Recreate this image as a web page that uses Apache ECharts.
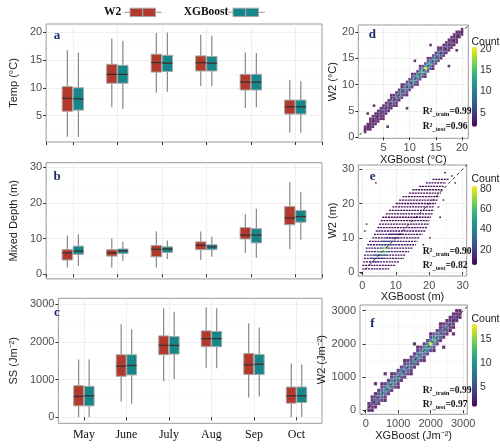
<!DOCTYPE html>
<html>
<head>
<meta charset="utf-8">
<script src="https://cdn.jsdelivr.net/npm/echarts@6/dist/echarts.min.js"></script>
<style>html,body{margin:0;padding:0;background:#fff}#main{width:500px;height:448px}</style>
</head>
<body>
<div id="main"></div>
<script>
var SANS = 'Liberation Sans, Arial, sans-serif';
var SERIF = 'Liberation Serif, Times New Roman, serif';
var RED = '#B23A2C', TEAL = '#16868A';
var VIRIDIS = ['#440154','#482878','#3e4989','#31688e','#26828e','#1f9e89','#35b779','#6ece58','#b5de2b','#fde725'];

var months = ['May', 'June', 'July', 'Aug', 'Sep', 'Oct'];
// boxplot stats: [min, Q1, median, Q3, max]
var tempW2 = [[1.25,5.8,8.1,10.2,16.7],[6.5,10.8,12.4,14.2,18.8],[9.1,12.8,14.5,16.0,19.8],[10.3,13.0,14.5,15.7,19.5],[6.4,9.6,11.0,12.4,16.3],[1.95,5.3,6.6,7.8,11.4]];
var tempXG = [[1.2,6.0,8.0,10.0,16.25],[6.2,10.8,12.4,14.0,18.4],[9.3,12.9,14.4,15.8,19.9],[10.3,13.0,14.4,15.6,19.3],[6.5,9.6,11.0,12.4,16.2],[1.95,5.3,6.6,7.8,11.2]];
var depthW2 = [[1.9,4.0,6.0,6.9,10.9],[1.9,5.1,6.0,6.9,10.0],[1.9,4.9,7.0,8.1,12.1],[4.0,6.9,8.1,9.1,12.0],[6.0,9.9,11.0,13.1,16.9],[7.1,13.9,15.8,19.0,25.9]];
var depthXG = [[2.3,5.6,6.5,7.9,11.2],[3.8,5.8,6.6,7.1,9.1],[4.3,6.1,7.1,7.7,9.5],[4.9,6.9,7.7,8.3,10.5],[4.6,8.8,11.0,12.8,18.4],[9.7,14.6,16.2,17.9,23.0]];
var ssW2 = [[0,304,554,839,1536],[420,1089,1357,1661,2473],[955,1661,1911,2161,2893],[1304,1875,2089,2295,2920],[527,1134,1393,1696,2500],[0,375,571,804,1429]];
var ssXG = [[0,304,571,821,1536],[357,1125,1375,1661,2339],[1018,1679,1911,2143,2804],[1304,1875,2089,2277,2893],[554,1134,1411,1670,2384],[18,393,571,804,1402]];

// panel d: binned counts along the 1:1 band (columns of XGBoost value, offsets of W2 from it)
var dCols = [1.5,2,2.5,3,3.5,4,4.5,5,5.5,6,6.5,7,7.5,8,8.5,9,9.5,10,10.5,11,11.5,12,12.5,13,13.5,14,14.5,15,15.5,16,16.5,17,17.5,18,18.5,19,19.5,20];
var dOffsets = [-1.5,-1,-0.5,0,0.5,1,1.5];
var dCounts = [
  [0,0,1,1,1,0,0],[0,0,1,2,1,0,0],[0,1,1,2,1,1,0],[0,1,2,2,2,1,0],[0,1,2,3,2,1,0],[0,1,2,3,2,1,0],
  [0,1,2,4,3,1,0],[1,1,3,4,3,1,0],[0,1,3,5,3,2,0],[0,2,3,5,4,2,0],[0,2,3,6,4,2,1],[0,2,4,6,4,2,0],
  [1,2,4,7,5,2,0],[0,2,5,8,5,3,0],[0,2,5,7,5,2,1],[0,3,5,8,6,3,0],[1,3,6,9,6,3,0],[0,3,6,9,6,3,0],
  [0,3,6,10,7,3,1],[0,3,7,10,7,3,0],[1,3,7,11,8,3,0],[0,4,7,12,8,4,1],[0,4,8,14,9,4,0],[1,4,8,20,9,4,0],
  [0,4,8,13,8,4,1],[0,3,7,11,7,3,0],[1,3,6,10,6,3,0],[0,3,6,9,6,3,0],[0,3,5,8,5,2,1],[0,2,4,7,5,2,0],
  [0,2,4,6,4,2,0],[0,2,3,5,3,2,0],[0,1,3,4,3,1,0],[0,1,2,4,2,1,0],[0,1,2,3,2,1,0],[0,1,1,2,2,1,0],
  [0,0,1,2,1,0,0],[0,0,1,1,1,0,0]
];
var dOutliers = [[5.8,2.0],[3.2,6.0],[9.5,5.5],[14,17.5],[17.5,13.5],[11,14.5],[2,4.5],[19,16.5]];

// panel e: W2 depth is discrete, so bins form horizontal runs [xStart, xEnd, W2, count]
var eRuns = [
  [0,8,1,6],[0,10,2,7],[0.3,11,3,8],[0.5,12.5,4,9],[0.5,13,5,10],[1,14,6,10],[1,15,7,10],[1.5,16,8,9],
  [2,16.5,9,8],[3,17,10,8],[3.5,18,11,7],[4,19,12,7],[4.5,19.5,13,6],[5,20,14,6],[5.5,20,15,6],[6,20.5,16,5],
  [7,21,17,5],[8,21.5,18,5],[9,21.5,19,5],[10,22,20,5],[11,22.5,21,5],[12,23,22,5],[14,23.5,23,5],[15,24,24,5],
  [17,24.5,25,5],[19,25,26,5],[21,26,27,5],
  [2,5,3,16],[2.5,6.5,4,22],[3.5,7.5,5,32],[4.5,8,6,44],[5.5,8,7,56],[5.5,9,8,32],[6,10,9,22],[7,11,10,15],[8,12,11,11],
  [6,7,6,70],[6.3,7.3,7,84],
  [3.8,4.3,26,5],[24.5,25,29,5],[26.5,27,28,5],[27.5,28,26,5],[22.5,23,19,5],[24,24.5,21,5],[0.5,1,12,5],[1,1.5,14,5],
  [18,18.5,8,5],[20,20.5,10,5],[23,23.5,16,5]
];

// panel f: binned counts along the 1:1 band
var fCols = [100,200,300,400,500,600,700,800,900,1000,1100,1200,1300,1400,1500,1600,1700,1800,1900,2000,2100,2200,2300,2400,2500,2600,2700,2800,2900];
var fOffsets = [-300,-200,-100,0,100,200,300];
var fCounts = [
  [0,0,1,2,1,0,0],[0,1,2,3,2,1,0],[0,1,3,5,3,1,0],[0,2,4,6,4,2,0],[0,2,4,8,5,2,1],[1,2,5,9,5,2,0],
  [0,2,5,10,6,2,0],[0,2,5,9,6,2,1],[0,2,5,9,5,2,0],[1,2,4,8,5,2,0],[0,2,4,8,5,2,0],[0,2,4,7,5,2,1],
  [0,2,4,7,4,2,0],[1,2,4,7,4,2,0],[0,2,4,8,5,2,0],[0,2,5,8,5,2,1],[0,2,5,9,5,2,0],[1,2,5,10,6,2,0],
  [0,3,6,11,7,3,0],[0,3,6,17,7,3,1],[1,3,6,12,6,3,0],[0,2,5,10,5,2,0],[0,2,4,7,4,2,1],[0,2,3,6,4,2,0],
  [0,1,3,5,3,1,0],[0,1,2,4,2,1,0],[0,1,2,3,2,1,0],[0,0,1,2,1,1,0],[0,0,1,1,1,0,0]
];
var fOutliers = [[600,1100],[1500,2000],[2400,1900],[300,800],[2700,2300]];

var r2Labels = [['0.99','0.96'],['0.90','0.82'],['0.99','0.97']];

function bandCells(cols, offsets, counts, outliers) {
  var out = [];
  cols.forEach(function (x, i) {
    offsets.forEach(function (o, j) {
      if (counts[i][j] > 0) out.push([x, x + o, counts[i][j]]);
    });
  });
  outliers.forEach(function (p) { out.push([p[0], p[1], 1]); });
  out.sort(function (a, b) { return a[2] - b[2]; });
  return out;
}
function boxData(stats) {
  return stats.map(function (s, i) { return [i + 1].concat(s); });
}

var myChart = echarts.init(document.getElementById('main'));

function boxRenderer(shift, fill) {
  return function (params, api) {
    var x = api.value(0);
    var band = api.size([1, 0])[0];
    var cx = api.coord([x, 0])[0] + shift * band;
    var hw = band * 0.116;
    var yv = [1, 2, 3, 4, 5].map(function (d) { return api.coord([x, api.value(d)])[1]; });
    return {
      type: 'group',
      children: [
        {type: 'line', shape: {x1: cx, y1: yv[4], x2: cx, y2: yv[3]}, style: {stroke: '#7d7d7d', lineWidth: 1.1}},
        {type: 'line', shape: {x1: cx, y1: yv[1], x2: cx, y2: yv[0]}, style: {stroke: '#7d7d7d', lineWidth: 1.1}},
        {type: 'rect', shape: {x: cx - hw, y: yv[3], width: hw * 2, height: yv[1] - yv[3]}, style: {fill: fill, stroke: '#a8a8a8', lineWidth: 1}},
        {type: 'line', shape: {x1: cx - hw, y1: yv[2], x2: cx + hw, y2: yv[2]}, style: {stroke: '#3d3030', lineWidth: 1.3}}
      ]
    };
  };
}

function runRenderer(params, api) {
  var p0 = api.coord([api.value(0), api.value(2)]);
  var p1 = api.coord([api.value(1), api.value(2)]);
  return {type: 'line', shape: {x1: p0[0], y1: p0[1], x2: Math.max(p1[0], p0[0] + 1.5), y2: p1[1]},
    style: {stroke: api.visual('color'), lineWidth: 1.3, lineDash: [2, 0.8]}};
}

function plainNum(v) { return String(v); }

function valAxis(gi, min, max, split, name, gap) {
  return {
    type: 'value', gridIndex: gi, min: min, max: max, splitNumber: split,
    name: name, nameLocation: 'middle', nameGap: gap,
    nameTextStyle: {fontFamily: SANS, fontSize: 11, color: '#1a1a1a'},
    axisLine: {show: false},
    axisTick: {show: true, length: 3, lineStyle: {color: '#333'}},
    axisLabel: {fontFamily: SANS, fontSize: 11, color: '#4d4d4d', margin: 4, showMinLabel: false, showMaxLabel: false, formatter: plainNum},
    splitLine: {show: true, showMinLine: false, showMaxLine: false, lineStyle: {color: '#ebebeb', width: 0.8}},
    minorTick: {show: false, splitNumber: 2},
    minorSplitLine: {show: true, lineStyle: {color: '#f5f5f5', width: 0.6}}
  };
}
function catAxis(gi, showLabels) {
  return {
    type: 'value', gridIndex: gi, min: 0.4, max: 6.6, splitNumber: 6,
    axisLine: {show: false},
    axisTick: {show: true, length: 3, lineStyle: {color: '#333'}},
    axisLabel: {show: showLabels, fontFamily: SERIF, fontSize: 12, color: '#111', margin: 6,
      showMinLabel: false, showMaxLabel: false,
      formatter: function (v) { return Math.abs(v - Math.round(v)) < 1e-6 ? months[Math.round(v) - 1] : ''; }},
    splitLine: {show: true, showMinLine: false, showMaxLine: false, lineStyle: {color: '#ebebeb', width: 0.8}}
  };
}
function barAxis(gi, min, max, split) {
  return {
    type: 'value', gridIndex: gi, min: min, max: max, splitNumber: split, position: 'right',
    axisLine: {show: false}, axisTick: {show: false}, splitLine: {show: false},
    axisLabel: {fontFamily: SANS, fontSize: 10.5, color: '#333', margin: 3, showMinLabel: false, showMaxLabel: false, formatter: plainNum}
  };
}

var gridStyle = {show: true, borderColor: '#999', borderWidth: 1, backgroundColor: '#fff'};
function g(l, t, w, h, plain) {
  var o = {left: l, top: t, width: w, height: h};
  if (!plain) Object.keys(gridStyle).forEach(function (k) { o[k] = gridStyle[k]; });
  return o;
}

var dashLine = {color: '#111', width: 0.9, type: [3, 3]};

var option = {
  animation: false,
  backgroundColor: '#fff',
  grid: [
    g(46, 24, 276, 118), g(46, 162.7, 276, 116.2), g(46, 298.3, 276, 125),
    g(358.3, 25, 110, 113.3), g(358.3, 165, 108.4, 111), g(360, 305, 107.3, 109.3),
    g(472, 46.7, 5, 80, true), g(472, 186, 5, 79, true), g(472, 324, 5, 82.7, true)
  ],
  xAxis: [
    catAxis(0, false), catAxis(1, false), catAxis(2, true),
    valAxis(3, 0.2, 21.2, 4, 'XGBoost (°C)', 12),
    valAxis(4, -1.2, 31.2, 3, 'XGBoost (m)', 12),
    valAxis(5, -175, 3125, 3, 'XGBoost (Jm⁻²)', 14),
    {type: 'value', gridIndex: 6, show: false, min: 0, max: 1},
    {type: 'value', gridIndex: 7, show: false, min: 0, max: 1},
    {type: 'value', gridIndex: 8, show: false, min: 0, max: 1}
  ],
  yAxis: [
    valAxis(0, 0.3, 21.4, 4, 'Temp (°C)', 14),
    valAxis(1, -1.3, 31.3, 3, 'Mixed Depth (m)', 14),
    valAxis(2, -159, 3159, 3, 'SS (Jm⁻²)', 28),
    valAxis(3, -0.2, 21.3, 4, 'W2 (°C)', 13),
    valAxis(4, -1.1, 31.2, 3, 'W2 (m)', 15),
    valAxis(5, -120, 3170, 3, 'W2 (Jm⁻²)', 28),
    barAxis(6, 1.7, 20.6, 4), barAxis(7, 4.8, 83.2, 4), barAxis(8, 1, 18.1, 3)
  ],
  visualMap: [
    {type: 'continuous', seriesIndex: [6], dimension: 2, min: 1.7, max: 20.6, left: 472, top: 46.7,
      itemWidth: 5, itemHeight: 80, padding: 0, calculable: false, inRange: {color: VIRIDIS}},
    {type: 'continuous', seriesIndex: [8], dimension: 3, min: 4.8, max: 83.2, left: 472, top: 186,
      itemWidth: 5, itemHeight: 79, padding: 0, calculable: false, inRange: {color: VIRIDIS}},
    {type: 'continuous', seriesIndex: [10], dimension: 2, min: 1, max: 18.1, left: 472, top: 324,
      itemWidth: 5, itemHeight: 82.7, padding: 0, calculable: false, inRange: {color: VIRIDIS}}
  ],
  series: [
    {type: 'custom', name: 'W2', xAxisIndex: 0, yAxisIndex: 0, renderItem: boxRenderer(-0.124, RED), encode: {x: 0, y: [1, 2, 3, 4, 5]}, data: boxData(tempW2), silent: true},
    {type: 'custom', name: 'XGBoost', xAxisIndex: 0, yAxisIndex: 0, renderItem: boxRenderer(0.124, TEAL), encode: {x: 0, y: [1, 2, 3, 4, 5]}, data: boxData(tempXG), silent: true},
    {type: 'custom', name: 'W2', xAxisIndex: 1, yAxisIndex: 1, renderItem: boxRenderer(-0.124, RED), encode: {x: 0, y: [1, 2, 3, 4, 5]}, data: boxData(depthW2), silent: true},
    {type: 'custom', name: 'XGBoost', xAxisIndex: 1, yAxisIndex: 1, renderItem: boxRenderer(0.124, TEAL), encode: {x: 0, y: [1, 2, 3, 4, 5]}, data: boxData(depthXG), silent: true},
    {type: 'custom', name: 'W2', xAxisIndex: 2, yAxisIndex: 2, renderItem: boxRenderer(-0.124, RED), encode: {x: 0, y: [1, 2, 3, 4, 5]}, data: boxData(ssW2), silent: true},
    {type: 'custom', name: 'XGBoost', xAxisIndex: 2, yAxisIndex: 2, renderItem: boxRenderer(0.124, TEAL), encode: {x: 0, y: [1, 2, 3, 4, 5]}, data: boxData(ssXG), silent: true},
    {type: 'scatter', xAxisIndex: 3, yAxisIndex: 3, symbol: 'rect', symbolSize: 2.6, data: bandCells(dCols, dOffsets, dCounts, dOutliers), silent: true},
    {type: 'line', xAxisIndex: 3, yAxisIndex: 3, data: [[-2, -2], [25, 25]], symbol: 'none', lineStyle: dashLine, silent: true, z: 5},
    {type: 'custom', xAxisIndex: 4, yAxisIndex: 4, renderItem: runRenderer, encode: {x: [0, 1], y: 2}, data: eRuns, silent: true},
    {type: 'line', xAxisIndex: 4, yAxisIndex: 4, data: [[-3, -3], [35, 35]], symbol: 'none', lineStyle: dashLine, silent: true, z: 5},
    {type: 'scatter', xAxisIndex: 5, yAxisIndex: 5, symbol: 'rect', symbolSize: 3.2, data: bandCells(fCols, fOffsets, fCounts, fOutliers), silent: true},
    {type: 'line', xAxisIndex: 5, yAxisIndex: 5, data: [[-300, -300], [3500, 3500]], symbol: 'none', lineStyle: dashLine, silent: true, z: 5}
  ],
  graphic: []
};

// legend glyphs
function legendKey(x0, x1, bx0, bx1, fill) {
  var mid = (bx0 + bx1) / 2;
  return [
    {type: 'line', shape: {x1: x0, y1: 12.3, x2: x1, y2: 12.3}, style: {stroke: '#9a9a9a', lineWidth: 1}},
    {type: 'rect', shape: {x: bx0, y: 8.2, width: mid - bx0, height: 8.4}, style: {fill: fill, stroke: '#a8a8a8', lineWidth: 1}},
    {type: 'rect', shape: {x: mid, y: 8.2, width: bx1 - mid, height: 8.4}, style: {fill: fill, stroke: '#a8a8a8', lineWidth: 1}}
  ];
}
var gr = option.graphic;
gr.push({type: 'text', x: 112.5, y: 12.3, style: {text: 'W2', font: 'bold 11.5px ' + SERIF, fill: '#111', align: 'center', verticalAlign: 'middle'}});
gr.push({type: 'text', x: 206, y: 12.3, style: {text: 'XGBoost', font: 'bold 11.5px ' + SERIF, fill: '#111', align: 'center', verticalAlign: 'middle'}});
legendKey(124.3, 161.7, 130, 155.5, RED).forEach(function (e) { gr.push(e); });
legendKey(227.7, 265, 233, 258.5, TEAL).forEach(function (e) { gr.push(e); });

// panel letters
[['a', 57, 35.7], ['b', 57, 176.7], ['c', 57, 312.3], ['d', 372.3, 35], ['e', 372.7, 176.7], ['f', 372.3, 323.3]].forEach(function (p) {
  gr.push({type: 'text', x: p[1], y: p[2], z: 10, style: {text: p[0], font: 'bold 13px ' + SERIF, fill: '#1b2a6b', align: 'center', verticalAlign: 'middle'}});
});
// colorbar titles
[41.7, 179.3, 319].forEach(function (y) {
  gr.push({type: 'text', x: 471.5, y: y, style: {text: 'Count', font: '10.5px ' + SANS, fill: '#1a1a1a', align: 'left', verticalAlign: 'middle'}});
});
// R² annotations
var r2Rows = [[112, 126.7], [251.7, 266], [390.7, 405]];
var r2Rich = {
  b: {fontFamily: SERIF, fontWeight: 'bold', fontSize: 9.5, fill: '#111'},
  s: {fontFamily: SERIF, fontWeight: 'bold', fontSize: 6.5, fill: '#111', padding: [5, 0, 0, 0]}
};
r2Rows.forEach(function (ys, i) {
  gr.push({type: 'text', x: 422.7, y: ys[0], z: 10, style: {text: '{b|R²}{s|_train}{b|=' + r2Labels[i][0] + '}', rich: r2Rich, align: 'left', verticalAlign: 'middle'}});
  gr.push({type: 'text', x: 422.7, y: ys[1], z: 10, style: {text: '{b|R²}{s|_test}{b|=' + r2Labels[i][1] + '}', rich: r2Rich, align: 'left', verticalAlign: 'middle'}});
});

myChart.setOption(option);
</script>
</body>
</html>
